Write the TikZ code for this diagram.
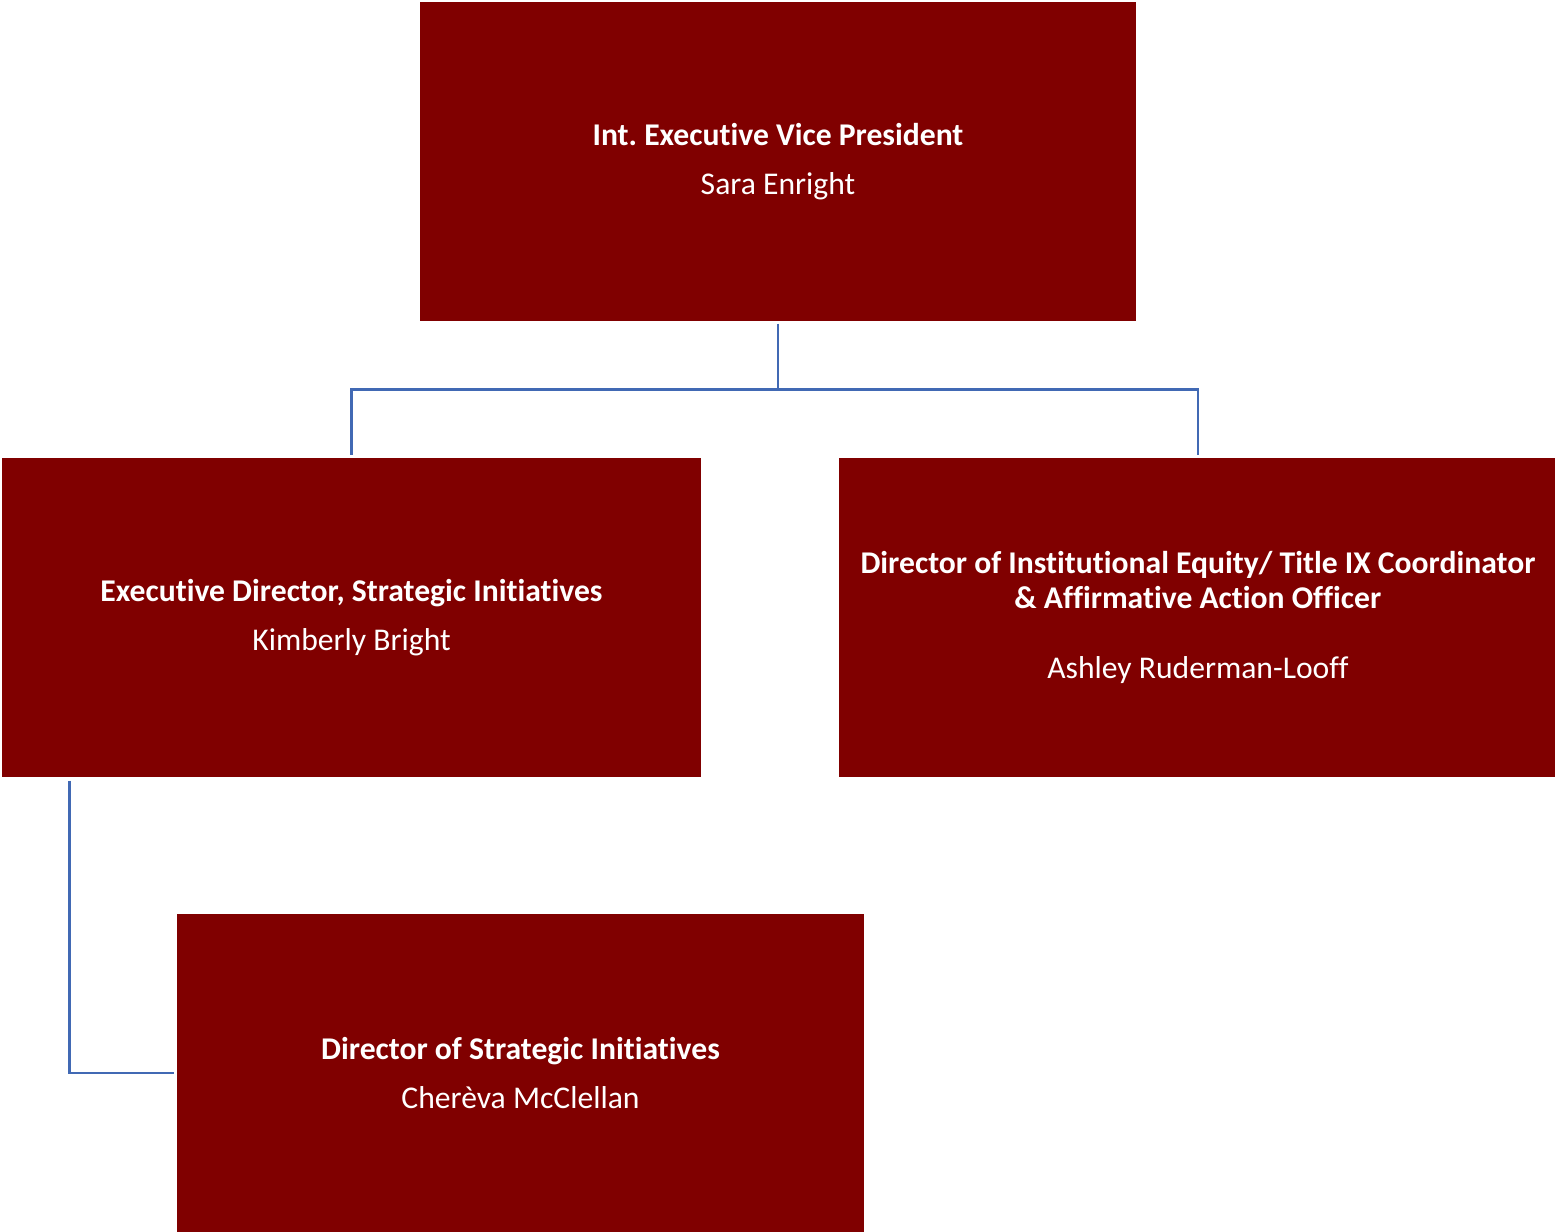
\documentclass[tikz,border=0pt]{standalone}
\usepackage{fontspec}
\setmainfont{Carlito}[Ligatures=NoCommon]
\usetikzlibrary{positioning}

\definecolor{maroonbox}{HTML}{800000}
\definecolor{linkblue}{HTML}{4169B4}

\frenchspacing

\begin{document}
\begin{tikzpicture}[
    box/.style={
        rectangle, fill=maroonbox, text=white,
        align=center, inner sep=0pt,
        minimum height=3.19cm,
        font=\fontsize{9}{10}\selectfont
    },
    conn/.style={draw=linkblue, line width=0.75pt}
]

\useasboundingbox (0,0) rectangle (15.55,-12.32);

%% --- top level ------------------------------------------------
\node[box, minimum width=7.16cm] (evp) at (7.78,-1.615) {
    \textbf{Int. Executive Vice President} \\[4pt]
    Sara Enright
};

%% --- second level ---------------------------------------------
\node[box, minimum width=6.99cm] (execdir) at (3.515,-6.175) {
    \textbf{Executive Director, Strategic Initiatives} \\[4pt]
    Kimberly Bright
};

\node[box, minimum width=7.17cm, right=1.37cm of execdir] (equity) {
    \textbf{Director of Institutional Equity/ Title IX Coordinator} \\
    \textbf{\& Affirmative Action Officer} \\[10pt]
    Ashley Ruderman-Looff
};

%% --- third level ----------------------------------------------
\node[box, minimum width=6.87cm, minimum height=3.18cm] (stratdir) at (5.205,-10.73) {
    \textbf{Director of Strategic Initiatives} \\[4pt]
    Cherèva McClellan
};

%% --- connectors -----------------------------------------------
\coordinate (split) at ([yshift=-0.68cm]evp.south);
\draw[conn] ([yshift=-0.02cm]evp.south) -- (split) -| ([yshift=0.02cm]execdir.north);
\draw[conn] (split) -| ([yshift=0.02cm]equity.north);

\coordinate (drop) at ([xshift=0.68cm,yshift=-0.03cm]execdir.south west);
\draw[conn] (drop) |- ([xshift=-0.02cm]stratdir.west);

\end{tikzpicture}
\end{document}
